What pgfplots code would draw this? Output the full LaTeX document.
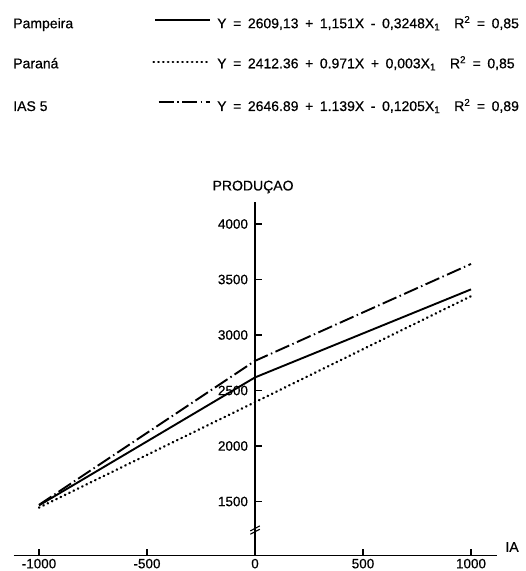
\documentclass[border=0pt]{standalone}
\usepackage{fontspec}
\setmainfont{Liberation Sans}[FakeBold=0.5]
\usepackage{pgfplots}
\pgfplotsset{compat=1.18}
\tikzset{
  solidl/.style={black, line width=1.9pt},
  dotl/.style={black, line width=2.4pt, dash pattern=on 0.5pt off 4.3pt, line cap=round},
  dashdotl/.style={black, line width=1.9pt, dash pattern=on 15pt off 3.5pt on 1.5pt off 3.5pt},
}
\begin{document}
\begin{tikzpicture}[font=\fontsize{14}{16}\selectfont]
\begin{axis}[
  x=0.216pt, y=0.111pt,
  xmin=-1117, xmax=1120, ymin=1012, ymax=4195,
  axis x line*=bottom, axis y line*=center,
  axis line style={line width=1.4pt, black},
  xtick={-1000,-500,0,500,1000},
  ytick={1500,2000,2500,3000,3500,4000},
  tick align=center,
  major tick length=7pt,
  tick style={line width=1.1pt, black},
  xtick style={yshift=3.5pt},
  ytick style={xshift=3.5pt},
  hide obscured x ticks=false,
  /pgf/number format/assume math mode=true,
  /pgf/number format/set thousands separator={},
  ticklabel style={font=\fontsize{13.5}{15}\selectfont},
  xticklabel style={anchor=north, inner sep=0pt, yshift=0.5pt},
  clip=false,
]
\addplot[solidl] coordinates {(-1000,1465) (0,2618) (1000,3411)};
\addplot[dotl] coordinates {(-1000,1445) (0,2395) (1000,3350)};
\addplot[dashdotl] coordinates {(-1000,1470) (0,2767) (1000,3640)};

% axis break mark
\draw[line width=1.1pt] (axis cs:-22,1205) -- (axis cs:22,1250);
\draw[line width=1.1pt] (axis cs:-22,1235) -- (axis cs:22,1280);

% axis labels
\node at (axis cs:-9,4333) {PRODUÇAO};
\node at (axis cs:1190,1090) {IA};

% legend
\node[anchor=base west, inner sep=0pt] at (axis cs:-1120,5764) {Pampeira};
\node[anchor=base west, inner sep=0pt] at (axis cs:-1120,5403) {Paraná};
\node[anchor=base west, inner sep=0pt] at (axis cs:-1120,5018) {IAS 5};
\draw[solidl] (axis cs:-463,5838) -- (axis cs:-208,5838);
\draw[dotl] (axis cs:-470,5462) -- (axis cs:-208,5462);
\draw[dashdotl, dash phase=20pt] (axis cs:-463,5100) -- (axis cs:-208,5100);
\begin{scope}[every node/.style={anchor=base west, inner sep=0pt}]
\node at (axis cs:-176,5764) {\spaceskip=6.6pt Y = 2609,13 + 1,151X - 0,3248X\textsubscript{1}\hspace{1em}R\textsuperscript{2} = 0,85};
\node at (axis cs:-176,5403) {\spaceskip=6.6pt Y = 2412.36 + 0.971X + 0,003X\textsubscript{1}\hspace{1em}R\textsuperscript{2} = 0,85};
\node at (axis cs:-176,5018) {\spaceskip=6.6pt Y = 2646.89 + 1.139X - 0,1205X\textsubscript{1}\hspace{1em}R\textsuperscript{2} = 0,89};
\end{scope}

\coordinate (BL) at (axis cs:-1180.6,874);
\coordinate (TR) at (axis cs:1250,6018);
\end{axis}
\pgfresetboundingbox
\path[use as bounding box] (BL) rectangle (TR);
\end{tikzpicture}
\end{document}
